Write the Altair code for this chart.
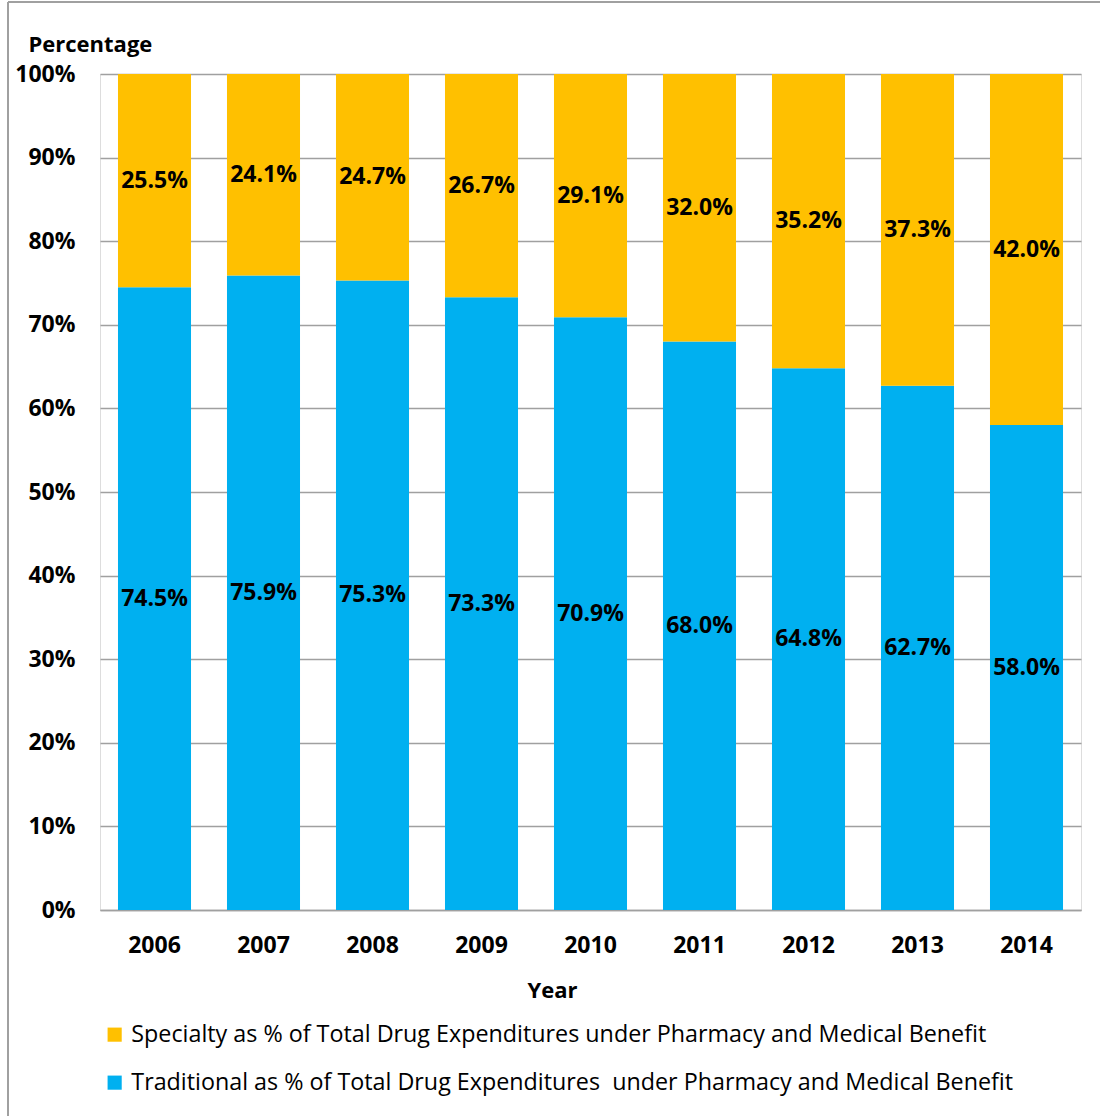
import altair as alt
import pandas as pd

years = ["2006", "2007", "2008", "2009", "2010", "2011", "2012", "2013", "2014"]
specialty = [25.5, 24.1, 24.7, 26.7, 29.1, 32.0, 35.2, 37.3, 42.0]
traditional = [74.5, 75.9, 75.3, 73.3, 70.9, 68.0, 64.8, 62.7, 58.0]
series_names = [
    "Specialty as % of Total Drug Expenditures under Pharmacy and Medical Benefit",
    "Traditional as % of Total Drug Expenditures \u00a0under Pharmacy and Medical Benefit",
]
colors = ["#FFC000", "#00B0F0"]
y_ticks = [0, 10, 20, 30, 40, 50, 60, 70, 80, 90, 100]

rows = []
for i, y in enumerate(years):
    rows.append({"year": y, "series": series_names[1], "value": traditional[i], "order": 0})
    rows.append({"year": y, "series": series_names[0], "value": specialty[i], "order": 1})
df = pd.DataFrame(rows)

FONT = "Open Sans"
W, H = 981, 836

base = alt.Chart(df).transform_stack(
    stack="value", groupby=["year"], as_=["y0", "y1"], sort=[alt.SortField("order")]
).transform_calculate(
    mid="(datum.y0 + datum.y1) / 2",
    label="format(datum.value, '.1f') + '%'",
)

x_enc = alt.X(
    "year:N",
    sort=years,
    scale=alt.Scale(paddingInner=0.33, paddingOuter=0.165),
    axis=alt.Axis(
        title="Year",
        labelAngle=0,
        labelFont=FONT,
        labelFontSize=23,
        labelFontWeight="bold",
        labelColor="black",
        labelPadding=24,
        ticks=False,
        domainColor="#a0a0a0",
        domainWidth=1.5,
        titleFont=FONT,
        titleFontSize=22,
        titleFontWeight="bold",
        titleColor="black",
        titleX=452,
        titleY=80,
        titleBaseline="middle",
        titleAlign="center",
    ),
)

bars = base.mark_bar().encode(
    x=x_enc,
    y=alt.Y(
        "y0:Q",
        scale=alt.Scale(domain=[0, 100], nice=False),
        axis=alt.Axis(
            values=y_ticks,
            labelExpr="datum.value + '%'",
            labelFont=FONT,
            labelFontSize=23,
            labelFontWeight="bold",
            labelColor="black",
            labelPadding=25,
            ticks=False,
            domain=False,
            grid=True,
            gridColor="#a0a0a0",
            gridWidth=1.5,
            title="Percentage",
            titleAngle=0,
            titleFont=FONT,
            titleFontSize=22,
            titleFontWeight="bold",
            titleColor="black",
            titleX=-72,
            titleY=-30,
            titleAlign="left",
            titleBaseline="middle",
        ),
    ),
    y2="y1:Q",
    color=alt.Color(
        "series:N",
        scale=alt.Scale(domain=series_names, range=colors),
        legend=alt.Legend(
            title=None,
            orient="none",
            legendX=3,
            legendY=949,
            direction="vertical",
            symbolType="square",
            symbolSize=200,
            symbolStrokeWidth=0,
            labelFont=FONT,
            labelFontSize=23.3,
            labelColor="black",
            labelLimit=1000,
            labelOffset=5,
            rowPadding=24,
        ),
    ),
)

labels = base.mark_text(
    font=FONT, fontSize=23, fontWeight="bold", color="black", baseline="middle"
).encode(
    x=alt.X("year:N", sort=years),
    y=alt.Y("mid:Q"),
    text="label:N",
)

border_left = alt.Chart(df).mark_rule(color="#a0a0a0", strokeWidth=2).encode(
    x=alt.value(-92), y=alt.value(-72), y2=alt.value(H + 280)
)
border_top = alt.Chart(df).mark_rule(color="#a0a0a0", strokeWidth=2).encode(
    x=alt.value(-92), x2=alt.value(W + 100), y=alt.value(-72)
)

chart = alt.layer(bars, labels, border_left, border_top).properties(
    width=W,
    height=H,
    autosize=alt.AutoSizeParams(type="none"),
    padding={"left": 100, "top": 74, "right": 19, "bottom": 206},
).configure_view(stroke=None).configure(background="white")

chart.save("out.html", embed_options={"renderer": "svg", "actions": False})
